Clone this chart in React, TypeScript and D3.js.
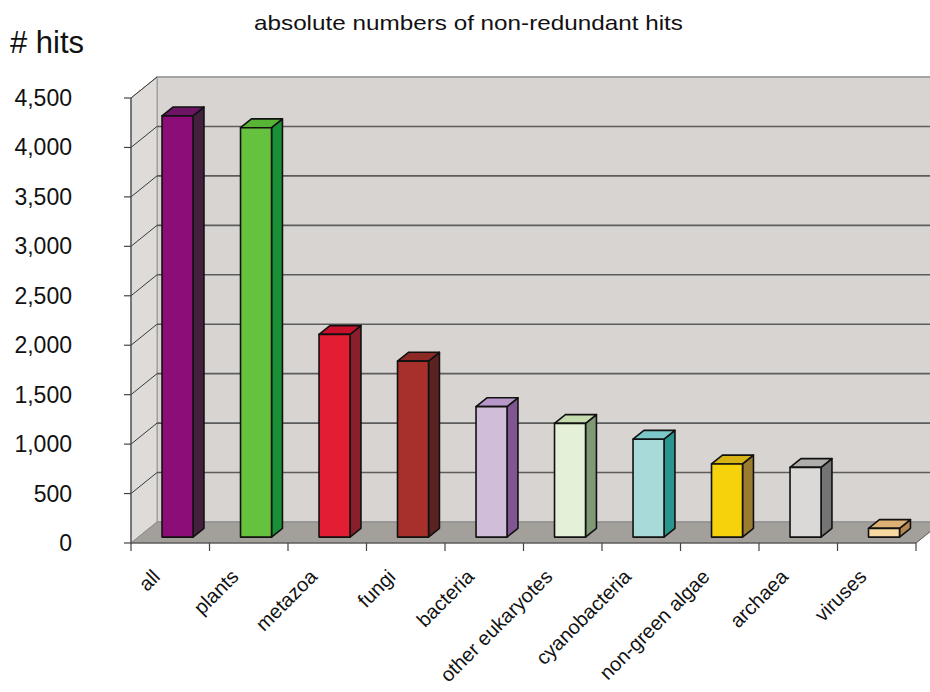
import React from "react";
import * as d3 from "d3";

const categories = ["all", "plants", "metazoa", "fungi", "bacteria", "other eukaryotes", "cyanobacteria", "non-green algae", "archaea", "viruses"];
const hits = [4260, 4140, 2050, 1780, 1320, 1150, 990, 740, 705, 88];
const yTicks = [0, 500, 1000, 1500, 2000, 2500, 3000, 3500, 4000, 4500];
const frontColors = ["#8C0C78", "#66C13E", "#E31E33", "#A8302B", "#D0BDD9", "#E4F1D8", "#A8DADA", "#F5D20C", "#DAD9D7", "#F9D9A2"];
const topColors = ["#6E1464", "#58B435", "#C9102A", "#8C2A26", "#B898C8", "#C4DCAE", "#7CC8C8", "#D6B314", "#AEADAB", "#DDB076"];
const sideColors = ["#44203F", "#198F37", "#8A1F2C", "#5B2222", "#7F5592", "#819874", "#28968F", "#9A7C30", "#747474", "#B48650"];

const W = 930, H = 692;
const DX = 26, DY = -21;
const F0 = 0.28, DD = 0.42;
const FONT = "Liberation Sans, Arial, sans-serif";

export default function App() {
  const x = d3.scaleBand<string>().domain(categories).range([131, 916]).padding(0);
  const y = d3.scaleLinear().domain([0, 4500]).range([543, 98]);
  const bw = x.bandwidth();
  const fw = bw * 0.395;
  const left = x.range()[0], right = x.range()[1];
  const y0 = y(0), yTop = y(4500);
  const fmt = d3.format(",");
  const pts = (a: number[][]) => a.map(p => p.join(",")).join(" ");

  return (
    <svg width={W} height={H} style={{ position: "absolute", left: 0, top: 0, background: "#fff" }} fontFamily={FONT}>
      <rect x={left + DX} y={yTop + DY} width={right - left} height={y0 - yTop} fill="#D8D4D1" stroke="#9a9a9a" strokeWidth={1.5} />
      <polygon points={pts([[left, yTop], [left + DX, yTop + DY], [left + DX, y0 + DY], [left, y0]])} fill="#DEDBD8" stroke="#9a9a9a" strokeWidth={1} />
      <polygon points={pts([[left, y0], [right, y0], [right + DX, y0 + DY], [left + DX, y0 + DY]])} fill="#A3A09C" stroke="#8a8a8a" strokeWidth={1} />
      {yTicks.filter(t => t > 0).map(t => (
        <g key={t}>
          <line x1={left + DX} x2={right + DX} y1={y(t) + DY} y2={y(t) + DY} stroke={t === 4500 ? "#a0a0a0" : "#5c5c5c"} strokeWidth={1.6} />
          <line x1={left} x2={left + DX} y1={y(t)} y2={y(t) + DY} stroke="#3a3a3a" strokeWidth={1} />
        </g>
      ))}
      {categories.map((c, i) => {
        const x0 = (x(c) as number) + bw / 2 - fw / 2 + F0 * DX;
        const yb = y0 + F0 * DY;
        const yt = y(hits[i]) + F0 * DY;
        const ox = DD * DX, oy = DD * DY;
        return (
          <g key={c} stroke="#111" strokeWidth={1.6} strokeLinejoin="round">
            <polygon points={pts([[x0 + fw, yt], [x0 + fw + ox, yt + oy], [x0 + fw + ox, yb + oy], [x0 + fw, yb]])} fill={sideColors[i]} />
            <polygon points={pts([[x0, yt], [x0 + ox, yt + oy], [x0 + fw + ox, yt + oy], [x0 + fw, yt]])} fill={topColors[i]} />
            <rect x={x0} y={yt} width={fw} height={yb - yt} fill={frontColors[i]} />
          </g>
        );
      })}
      <line x1={left} x2={left} y1={yTop} y2={y0} stroke="#444" strokeWidth={1.2} />
      <line x1={left} x2={right} y1={y0} y2={y0} stroke="#444" strokeWidth={1.2} />
      <line x1={right} x2={right + DX} y1={y0} y2={y0 + DY} stroke="#666" strokeWidth={1} />
      {yTicks.map(t => (
        <g key={t}>
          <line x1={left - 7} x2={left} y1={y(t)} y2={y(t)} stroke="#444" strokeWidth={1.2} />
          <text x={72} y={y(t)} dy="0.35em" textAnchor="end" fontSize={23} fill="#111">{fmt(t)}</text>
        </g>
      ))}
      {categories.concat(["_end"]).map((c, i) => {
        const xt = left + i * bw;
        return <line key={c} x1={xt} x2={xt} y1={y0} y2={y0 + 8} stroke="#444" strokeWidth={1.2} />;
      })}
      {categories.map(c => {
        const cx = (x(c) as number) + bw / 2 - 9;
        const cy = 578;
        return (
          <text key={c} x={cx} y={cy} textAnchor="end" fontSize={20} fill="#111" transform={`rotate(-45 ${cx} ${cy})`}>{c}</text>
        );
      })}
      <text x={10} y={53} fontSize={31} fill="#111">{"# hits"}</text>
      <text x={254} y={30} fontSize={21} textLength={429} lengthAdjust="spacingAndGlyphs" fill="#111">absolute numbers of non-redundant hits</text>
    </svg>
  );
}
